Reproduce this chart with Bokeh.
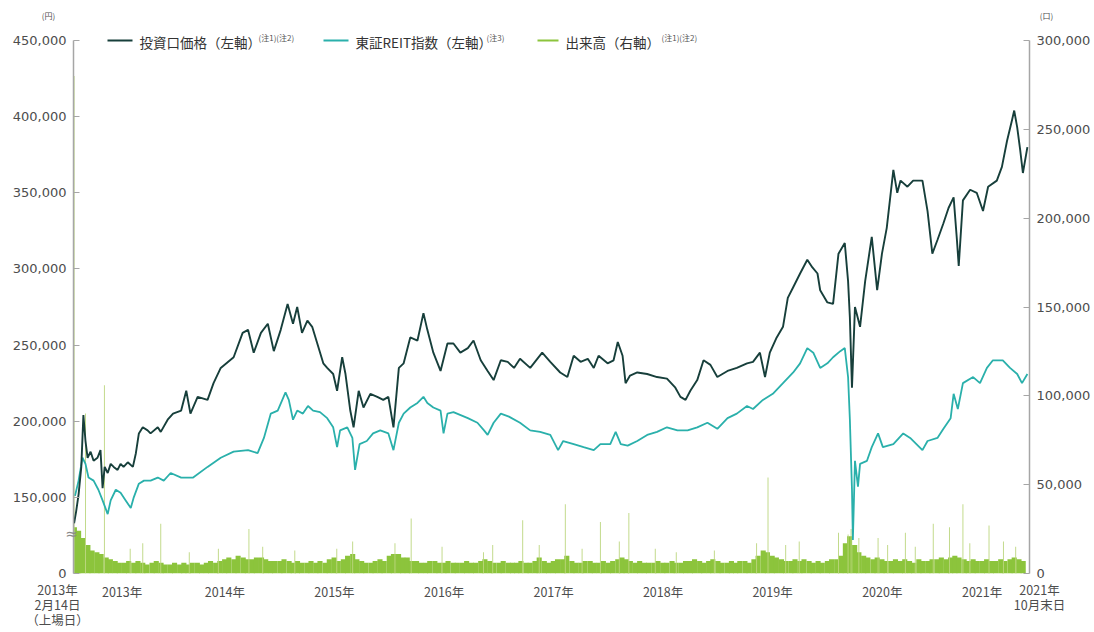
import pandas as pd
from bokeh.plotting import figure
from bokeh.models import (ColumnDataSource, Range1d, LinearAxis, FixedTicker,
                          NumeralTickFormatter, GridBox)
from bokeh.core.properties import value
from bokeh.embed import file_html
from bokeh.resources import INLINE

# ---------------- data ----------------
# 投資口価格 (円, thousands) – values as read on the left axis
price_dates = [
    "2013-02-14","2013-02-21","2013-03-01","2013-03-10","2013-03-17","2013-03-24","2013-03-31",
    "2013-04-10","2013-04-20","2013-05-03","2013-05-13","2013-05-20","2013-05-27","2013-06-06",
    "2013-06-16","2013-06-26","2013-07-09","2013-07-19","2013-07-29","2013-08-12","2013-08-29",
    "2013-09-08","2013-09-18","2013-10-01","2013-10-17","2013-10-27","2013-11-20","2013-11-30",
    "2013-12-23","2014-01-10","2014-02-06","2014-02-23","2014-03-09","2014-04-02","2014-05-05",
    "2014-05-25","2014-06-18","2014-07-31","2014-08-30","2014-09-17","2014-10-06","2014-10-30",
    "2014-11-22","2014-12-12","2015-01-04","2015-01-27","2015-02-14","2015-02-28","2015-03-16",
    "2015-04-03","2015-04-19","2015-05-06","2015-05-26","2015-06-08","2015-06-28","2015-07-11",
    "2015-07-28","2015-08-08","2015-08-24","2015-09-04","2015-09-21","2015-10-07","2015-10-30",
    "2015-11-22","2015-12-12","2015-12-29","2016-01-15","2016-02-02","2016-02-18","2016-03-11",
    "2016-04-04","2016-04-24","2016-05-07","2016-05-27","2016-06-20","2016-07-13","2016-08-02",
    "2016-08-25","2016-09-19","2016-10-08","2016-11-01","2016-11-24","2016-12-14","2017-01-07",
    "2017-01-30","2017-02-20","2017-03-12","2017-04-15","2017-05-25","2017-06-21","2017-07-24",
    "2017-08-17","2017-09-07","2017-09-30","2017-10-24","2017-11-13","2017-11-29","2017-12-29",
    "2018-01-18","2018-02-01","2018-02-17","2018-02-27","2018-03-14","2018-04-07","2018-05-10",
    "2018-06-12","2018-07-15","2018-08-12","2018-08-29","2018-09-15","2018-10-01","2018-10-24",
    "2018-11-14","2018-12-07","2018-12-30","2019-02-02","2019-03-05","2019-04-08","2019-04-28",
    "2019-05-21","2019-06-07","2019-06-23","2019-07-16","2019-08-06","2019-08-22","2019-09-09",
    "2019-10-02","2019-10-26","2019-11-12","2019-11-29","2019-12-08","2020-01-01","2020-01-20",
    "2020-02-07","2020-02-28","2020-03-10","2020-03-16","2020-03-23","2020-04-02","2020-04-19",
    "2020-05-06","2020-05-28","2020-06-15","2020-07-01","2020-07-17","2020-08-08","2020-08-21",
    "2020-09-01","2020-09-24","2020-10-13","2020-11-13","2020-11-30","2020-12-16","2021-01-02",
    "2021-01-22","2021-02-08","2021-02-25","2021-03-08","2021-03-14","2021-03-28","2021-04-21",
    "2021-05-13","2021-06-03","2021-06-20","2021-07-19","2021-08-05","2021-08-22","2021-09-08",
    "2021-09-15","2021-09-25","2021-10-05","2021-10-14","2021-10-29",
]
price_k = [
    133, 141, 152, 170, 204, 187, 176,
    180, 174, 176, 181, 156, 170, 166,
    172, 170, 168, 172, 170, 173, 170,
    179, 192, 196, 194, 192, 196, 193,
    201, 205, 207, 220, 205, 216, 214,
    225, 235, 242, 258, 260, 245, 258,
    264, 246, 260, 277, 264, 275, 258,
    266, 262, 251, 238, 235, 231, 220,
    242, 231, 207, 196, 220, 209, 218,
    216, 214, 216, 196, 235, 238, 255,
    253, 271, 260, 245, 233, 251, 251,
    245, 248, 253, 240, 233, 227, 240,
    239, 235, 241, 235, 245, 239, 232,
    229, 243, 239, 241, 235, 243, 238,
    240, 252, 243, 225, 230, 232, 231,
    229, 228, 222, 216, 214, 220, 227,
    240, 237, 229, 233, 235, 238, 239,
    245, 229, 245, 255, 262, 281, 288,
    297, 306, 301, 297, 286, 278, 277,
    310, 317, 292, 268, 222, 275, 262,
    292, 321, 286, 310, 327, 365, 350,
    358, 354, 358, 358, 338, 310, 319,
    330, 340, 347, 319, 302, 345, 352,
    350, 338, 354, 358, 367, 384, 398,
    404, 393, 378, 363, 380,
]

# 東証REIT指数 (plotted on left axis, thousands as read)
reit_dates = [
    "2013-02-17","2013-03-01","2013-03-14","2013-03-24","2013-04-03","2013-04-20","2013-05-06",
    "2013-05-20","2013-06-06","2013-06-16","2013-07-03","2013-07-19","2013-08-05","2013-08-22",
    "2013-09-01","2013-09-18","2013-10-05","2013-10-27","2013-11-20","2013-12-10","2014-01-02",
    "2014-02-06","2014-03-18","2014-05-05","2014-06-18","2014-07-31","2014-09-17","2014-10-19",
    "2014-11-09","2014-12-02","2014-12-25","2015-01-20","2015-01-31","2015-02-14","2015-02-28",
    "2015-03-19","2015-04-05","2015-04-22","2015-05-15","2015-06-08","2015-06-28","2015-07-11",
    "2015-07-21","2015-08-14","2015-08-31","2015-09-09","2015-09-24","2015-10-18","2015-11-08",
    "2015-12-02","2015-12-29","2016-01-15","2016-02-02","2016-02-18","2016-03-11","2016-04-04",
    "2016-04-24","2016-05-07","2016-05-27","2016-06-20","2016-06-30","2016-07-13","2016-08-02",
    "2016-09-19","2016-10-21","2016-11-12","2016-11-24","2016-12-14","2017-01-07","2017-02-03",
    "2017-03-12","2017-04-15","2017-05-18","2017-06-21","2017-07-17","2017-08-03","2017-09-07",
    "2017-10-10","2017-11-13","2017-12-05","2018-01-07","2018-01-25","2018-02-11","2018-03-06",
    "2018-04-07","2018-05-10","2018-06-12","2018-07-15","2018-08-19","2018-09-22","2018-10-24",
    "2018-11-27","2018-12-30","2019-02-02","2019-03-05","2019-04-08","2019-04-28","2019-05-31",
    "2019-07-03","2019-08-06","2019-09-09","2019-10-02","2019-10-26","2019-11-15","2019-12-08",
    "2020-01-01","2020-01-20","2020-02-13","2020-02-28","2020-03-10","2020-03-16","2020-03-23",
    "2020-03-26","2020-04-02","2020-04-12","2020-04-19","2020-05-12","2020-05-28","2020-06-18",
    "2020-07-04","2020-08-08","2020-09-10","2020-10-03","2020-11-13","2020-11-30","2021-01-02",
    "2021-01-22","2021-02-15","2021-02-25","2021-03-11","2021-03-28","2021-05-01","2021-05-24",
    "2021-06-16","2021-07-06","2021-08-08","2021-09-01","2021-09-25","2021-10-11","2021-10-29",
]
reit_k = [
    151, 161, 176, 172, 163, 161, 155,
    148, 139, 148, 155, 153, 148, 143,
    150, 159, 161, 161, 163, 161, 166,
    163, 163, 170, 176, 180, 181, 179,
    189, 205, 207, 219, 214, 201, 207,
    205, 210, 207, 206, 202, 196, 183,
    194, 196, 189, 168, 185, 187, 192,
    194, 192, 181, 199, 205, 209, 212,
    216, 212, 209, 207, 192, 205, 206,
    202, 199, 194, 191, 199, 205, 203,
    199, 194, 193, 191, 181, 187, 185,
    183, 181, 185, 185, 193, 185, 184,
    187, 191, 193, 196, 194, 194, 196,
    199, 195, 202, 205, 210, 208, 214,
    218, 225, 232, 238, 248, 245, 235,
    238, 242, 246, 248, 229, 201, 155,
    122, 174, 157, 172, 174, 183, 192,
    183, 185, 192, 189, 181, 187, 189,
    195, 202, 218, 208, 225, 229, 225,
    235, 240, 240, 235, 231, 225, 231,
]

# 出来高 (口, thousands) – semi-monthly level of daily volume bars
vol_2013 = [26, 24, 20, 16, 13, 12, 11, 9, 8, 7, 6, 6, 7, 6, 7, 6, 5, 6, 7, 6, 5]
vol_2014 = [5, 6, 5, 6, 5, 6, 6, 5, 6, 7, 6, 7, 8, 9, 8, 10, 9, 8, 8, 9, 9, 8, 7, 7]
vol_2015 = [7, 8, 7, 6, 7, 6, 6, 7, 6, 7, 6, 8, 9, 7, 8, 10, 11, 8, 7, 6, 6, 7, 8, 7]
vol_2016 = [10, 11, 11, 9, 9, 7, 7, 6, 6, 7, 7, 6, 6, 7, 6, 6, 6, 7, 6, 6, 7, 8, 7, 6]
vol_2017 = [6, 7, 6, 6, 6, 7, 6, 6, 7, 9, 7, 6, 7, 8, 8, 10, 7, 6, 6, 7, 7, 6, 6, 7]
vol_2018 = [6, 7, 8, 9, 8, 7, 6, 7, 6, 6, 6, 7, 6, 6, 7, 6, 6, 7, 7, 8, 7, 6, 7, 8]
vol_2019 = [7, 6, 6, 7, 6, 7, 7, 6, 8, 10, 13, 12, 10, 9, 8, 7, 7, 8, 7, 8, 7, 6, 7, 6]
vol_2020 = [7, 8, 8, 10, 17, 21, 16, 12, 10, 9, 8, 9, 8, 7, 7, 8, 7, 8, 7, 6, 8, 7, 7, 8]
vol_2021 = [8, 9, 8, 9, 10, 9, 8, 7, 8, 7, 7, 8, 7, 7, 8, 7, 8, 9, 8, 7]

# individual high-volume days (口, thousands)
spike_dates = [
    "2013-02-14","2013-03-24","2013-05-26","2013-08-20","2013-10-01","2013-11-30",
    "2014-03-05","2014-06-10","2014-09-20","2014-11-05","2015-02-20","2015-07-10",
    "2015-09-01","2016-01-20","2016-03-14","2016-06-25","2016-11-10","2016-12-11",
    "2017-03-21","2017-05-15","2017-08-10","2017-10-05","2017-12-05","2018-02-06",
    "2018-03-10","2018-06-06","2018-08-15","2018-12-20","2019-05-10","2019-06-17",
    "2019-08-15","2019-09-29","2020-02-07","2020-03-10","2020-03-20","2020-04-15",
    "2020-06-18","2020-07-20","2020-09-17","2020-10-20","2020-12-19","2021-02-11",
    "2021-03-28","2021-04-20","2021-06-23","2021-08-10","2021-09-20",
]
spike_k = [
    280, 90, 106, 14, 17, 28,
    12, 14, 25, 15, 13, 14,
    18, 17, 31, 15, 12, 16,
    30, 16, 39, 14, 29, 18,
    34, 14, 12, 13, 17, 54,
    16, 18, 23, 22, 25, 20,
    20, 16, 23, 15, 28, 26,
    39, 17, 27, 18, 15,
]

x_tick_dates = ["2013-07-24", "2014-07-02", "2015-07-02", "2016-07-02", "2017-07-02",
                "2018-07-02", "2019-07-02", "2020-07-02", "2021-05-31"]
x_tick_labels = ["2013年", "2014年", "2015年", "2016年", "2017年",
                 "2018年", "2019年", "2020年", "2021年"]
first_label_lines = ["2013年", "2月14日", "（上場日）"]
last_label_lines = ["2021年", "10月末日"]

left_ticks = [100000, 150000, 200000, 250000, 300000, 350000, 400000, 450000]
left_zero_tick = 100000          # the broken axis shows "0" here
right_ticks = [0, 50000, 100000, 150000, 200000, 250000, 300000]

legend_names = ["投資口価格（左軸）", "東証REIT指数（左軸）", "出来高（右軸）"]
legend_notes = ["(注1)(注2)", "(注3)", "(注1)(注2)"]
unit_labels = ["(円)", "(口)"]

# ---------------- styling ----------------
DARK = "#173f3b"
CYAN = "#2ab0ab"
GREEN = "#8cc43c"
SPIKE = "#bcd67f"
AXIS = "#a6a6a6"
TXT = "#4d4d4d"
JP = "Noto Sans CJK JP"
NUM = "DejaVu Sans"

def ms(d):
    return float(pd.Timestamp(d).value // 10**6)

price_src = ColumnDataSource(dict(x=pd.to_datetime(price_dates), y=[v * 1000 for v in price_k]))
reit_src = ColumnDataSource(dict(x=pd.to_datetime(reit_dates), y=[v * 1000 for v in reit_k]))
vol_k = vol_2013 + vol_2014 + vol_2015 + vol_2016 + vol_2017 + vol_2018 + vol_2019 + vol_2020 + vol_2021
vol_dates = pd.date_range("2013-02-15", "2021-10-15", freq="SMS")
assert len(vol_dates) == len(vol_k), (len(vol_dates), len(vol_k))
vol_src = ColumnDataSource(dict(x=vol_dates, y=[v * 1000 for v in vol_k]))
spike_src = ColumnDataSource(dict(x=pd.to_datetime(spike_dates), y=[v * 1000 for v in spike_k]))

DAY = 86400000.0

p = figure(x_axis_type="datetime",
           x_range=Range1d(ms("2013-02-12"), ms("2021-11-05")),
           y_range=Range1d(100000, 450000),
           frame_width=956, frame_height=533,
           min_border_left=73, min_border_top=40, min_border_right=62, min_border_bottom=55,
           output_backend="svg", toolbar_location=None)
p.outline_line_color = None
p.xgrid.grid_line_color = None
p.ygrid.grid_line_color = None
p.background_fill_color = "white"
p.border_fill_color = "white"

p.extra_y_ranges = {"vol": Range1d(0, 300000)}

# volume
p.vbar(x="x", top="y", bottom=0, width=17 * DAY, source=vol_src, y_range_name="vol",
       fill_color=GREEN, line_color=None)
p.vbar(x="x", top="y", bottom=0, width=3.0 * DAY, source=spike_src, y_range_name="vol",
       fill_color=SPIKE, line_color=None)

# lines
p.line(x="x", y="y", source=reit_src, line_color=CYAN, line_width=1.8)
p.line(x="x", y="y", source=price_src, line_color=DARK, line_width=1.9)

# x axis
xa = p.xaxis[0]
xa.ticker = FixedTicker(ticks=[ms(d) for d in x_tick_dates])
xa.major_label_overrides = {ms(d): t for d, t in zip(x_tick_dates, x_tick_labels)}
xa.axis_line_color = None
xa.major_tick_line_color = None
xa.minor_tick_line_color = None
xa.major_label_standoff = 2
xa.major_label_text_font = JP
xa.major_label_text_font_size = "12.5px"
xa.major_label_text_color = TXT

# left axis
ya = p.yaxis[0]
ya.ticker = FixedTicker(ticks=left_ticks)
ya.formatter = NumeralTickFormatter(format="0,0")
ya.major_label_overrides = {left_zero_tick: "0"}
ya.axis_line_color = AXIS
ya.axis_line_width = 1.5
ya.major_tick_line_color = AXIS
ya.major_tick_in = 6
ya.major_tick_out = 0
ya.minor_tick_line_color = None
ya.major_label_standoff = 7
ya.major_label_text_font = NUM
ya.major_label_text_font_size = "13px"
ya.major_label_text_color = TXT

# right axis
ra = LinearAxis(y_range_name="vol", ticker=FixedTicker(ticks=right_ticks),
                formatter=NumeralTickFormatter(format="0,0"))
ra.axis_line_color = AXIS
ra.axis_line_width = 1.5
ra.major_tick_line_color = AXIS
ra.major_tick_in = 6
ra.major_tick_out = 0
ra.minor_tick_line_color = None
ra.major_label_standoff = 7
ra.major_label_text_font = NUM
ra.major_label_text_font_size = "13px"
ra.major_label_text_color = TXT
p.add_layout(ra, "right")

# ---------------- overlay for texts outside the plot frame ----------------
W, H = 1092, 630
o = figure(width=W, height=H, x_range=Range1d(0, W), y_range=Range1d(H, 0),
           min_border=0, x_axis_location=None, y_axis_location=None,
           toolbar_location=None, output_backend="svg")
o.outline_line_color = None
o.background_fill_color = None
o.border_fill_color = None
o.grid.visible = False
for fig in (p, o):
    if "frame_align" in fig.properties():
        fig.frame_align = False

# legend samples and texts (positions in pixels of the page)
legend_colors = [DARK, CYAN, GREEN]
o.segment(x0=[107, 323, 537], x1=[132, 348, 558], y0=[40, 40, 40], y1=[40, 40, 40],
          line_color=legend_colors, line_width=2)
o.text(x=[139, 355, 565], y=[41, 41, 41], text=legend_names,
       text_font=value(JP), text_font_size=value("13.5px"), text_color="#333333",
       text_align="left", text_baseline="middle")
o.text(x=[258, 486, 661], y=[37, 37, 37], text=legend_notes,
       text_font=value(JP), text_font_size=value("8px"), text_color="#555555",
       text_align="left", text_baseline="middle")

# axis units
o.text(x=[48, 1046], y=[15, 15], text=unit_labels,
       text_font=value(JP), text_font_size=value("8px"), text_color=TXT,
       text_align="center", text_baseline="middle")

# axis break mark
o.text(x=[71], y=[533], text=["≈"], text_font=value(NUM), text_font_size=value("15px"),
       text_color="#8a8a8a", text_align="center", text_baseline="middle")

# first / last date labels
o.text(x=[57] * len(first_label_lines), y=[589, 604, 619], text=first_label_lines,
       text_font=value(JP), text_font_size=value("12.5px"), text_color=TXT,
       text_align="center", text_baseline="middle")
o.text(x=[1039] * len(last_label_lines), y=[589, 604], text=last_label_lines,
       text_font=value(JP), text_font_size=value("12.5px"), text_color=TXT,
       text_align="center", text_baseline="middle")

layout = GridBox(children=[(p, 0, 0), (o, 0, 0)])

open("out.html", "w").write(file_html(layout, INLINE))
